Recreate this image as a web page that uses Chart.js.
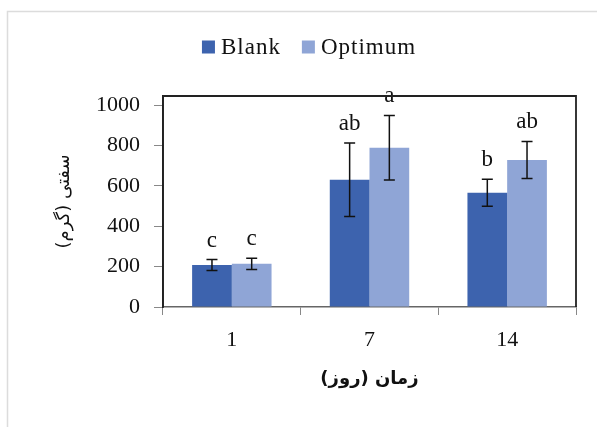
<!DOCTYPE html>
<html>
<head>
<meta charset="utf-8">
<script src="https://cdn.jsdelivr.net/npm/chart.js@4/dist/chart.umd.min.js"></script>
<style>
  html, body { margin: 0; padding: 0; background: #fff; }
  #wrap { width: 597px; height: 427px; position: relative; }
</style>
</head>
<body>
<div id="wrap"><canvas id="c" width="597" height="427"></canvas></div>
<script>
// Days of storage
const days = ['1', '7', '14'];

// Mean hardness (g) per treatment
const blankValues = [208, 630, 566];
const optimumValues = [214, 789, 728];

// Error bar half-widths (g)
const blankErrors = [27, 182, 67];
const optimumErrors = [28, 160, 92];

// Significance letters
const blankLetters = ['c', 'ab', 'b'];
const optimumLetters = ['c', 'a', 'ab'];

// Y axis tick values
const yTicks = [0, 200, 400, 600, 800, 1000];

const seriesNames = ['Blank', 'Optimum'];
const seriesColors = ['#3D63AE', '#8FA5D6'];

const SERIF = '"Liberation Serif", "Times New Roman", serif';
const ARABIC = '"DejaVu Sans", sans-serif';

// Error bars and letters above each bar
const errorBarPlugin = {
  id: 'errorBars',
  afterDatasetsDraw(chart) {
    const ctx = chart.ctx;
    const y = chart.scales.y;
    const errs = [blankErrors, optimumErrors];
    const letters = [blankLetters, optimumLetters];
    ctx.save();
    chart.data.datasets.forEach((ds, di) => {
      const meta = chart.getDatasetMeta(di);
      meta.data.forEach((bar, i) => {
        const v = ds.data[i];
        const e = errs[di][i];
        const yTop = y.getPixelForValue(v + e);
        const yBot = y.getPixelForValue(v - e);
        const x = bar.x;
        ctx.strokeStyle = '#111';
        ctx.lineWidth = 1.5;
        ctx.beginPath();
        ctx.moveTo(x, yTop); ctx.lineTo(x, yBot);
        ctx.moveTo(x - 5.5, yTop); ctx.lineTo(x + 5.5, yTop);
        ctx.moveTo(x - 5.5, yBot); ctx.lineTo(x + 5.5, yBot);
        ctx.stroke();
        ctx.fillStyle = '#111';
        ctx.font = '23px ' + SERIF;
        ctx.textAlign = 'center';
        ctx.textBaseline = 'alphabetic';
        ctx.fillText(letters[di][i], x, yTop - 13);
      });
    });
    ctx.restore();
  }
};

// Plot frame, outer border and legend
const framePlugin = {
  id: 'frame',
  beforeDraw(chart) {
    const ctx = chart.ctx;
    ctx.save();
    ctx.fillStyle = '#fff';
    ctx.fillRect(0, 0, chart.width, chart.height);
    ctx.strokeStyle = '#dcdcdc';
    ctx.lineWidth = 1.5;
    ctx.beginPath();
    ctx.moveTo(7.5, chart.height); ctx.lineTo(7.5, 11.5); ctx.lineTo(chart.width, 11.5);
    ctx.stroke();
    ctx.restore();
  },
  afterDraw(chart) {
    const ctx = chart.ctx;
    const a = chart.chartArea;
    ctx.save();
    ctx.strokeStyle = '#222';
    ctx.lineWidth = 1.8;
    ctx.beginPath();
    ctx.moveTo(a.left, a.bottom); ctx.lineTo(a.left, a.top);
    ctx.lineTo(a.right, a.top); ctx.lineTo(a.right, a.bottom);
    ctx.stroke();

    // legend
    ctx.font = '23px ' + SERIF;
    ctx.letterSpacing = '1px';
    ctx.textBaseline = 'middle';
    ctx.textAlign = 'left';
    const box = 13, gapBox = 6, gapItem = 21;
    const items = chart.data.datasets.map(d => ({ label: d.label, color: d.backgroundColor, w: ctx.measureText(d.label).width }));
    let total = 0;
    items.forEach((it, i) => { total += box + gapBox + it.w + (i ? gapItem : 0); });
    let x = 309 - total / 2;
    const cy = 47;
    items.forEach((it, i) => {
      if (i) x += gapItem;
      ctx.fillStyle = it.color;
      ctx.fillRect(x, cy - box / 2, box, box);
      x += box + gapBox;
      ctx.fillStyle = '#111';
      ctx.fillText(it.label, x, cy + 1);
      x += it.w;
    });
    ctx.restore();
  }
};

new Chart(document.getElementById('c'), {
  type: 'bar',
  data: {
    labels: days,
    datasets: [
      { label: seriesNames[0], data: blankValues, backgroundColor: seriesColors[0] },
      { label: seriesNames[1], data: optimumValues, backgroundColor: seriesColors[1] }
    ]
  },
  options: {
    responsive: false,
    animation: false,
    devicePixelRatio: 1,
    layout: { padding: { top: 96, left: 41, right: 21, bottom: 0 } },
    datasets: { bar: { categoryPercentage: 0.577, barPercentage: 1, borderWidth: 0 } },
    plugins: {
      legend: { display: false },
      tooltip: { enabled: false }
    },
    scales: {
      x: {
        grid: { offset: true, drawOnChartArea: false, drawTicks: true, tickLength: 8, color: '#888', lineWidth: 1 },
        border: { display: true, color: '#666', width: 1.5 },
        ticks: { color: '#111', font: { family: SERIF, size: 22 }, padding: 12 },
        title: { display: true, text: 'زمان (روز)', color: '#111', font: { family: ARABIC, size: 18, weight: 'bold' }, padding: { top: 0, bottom: 37 } },
        afterFit(scale) { scale.height = 120; }
      },
      y: {
        min: 0,
        max: 1045,
        afterBuildTicks(scale) { scale.ticks = yTicks.map(v => ({ value: v })); },
        grid: { drawOnChartArea: false, drawTicks: true, tickLength: 9, color: '#888', lineWidth: 1 },
        border: { display: true, color: '#222', width: 1.8 },
        ticks: { color: '#111', font: { family: SERIF, size: 22 }, padding: 14, callback: (v) => String(v) },
        title: { display: true, text: 'سفتی (گرم)', color: '#111', font: { family: ARABIC, size: 18 }, padding: { top: 13, bottom: 0 } },
        afterFit(scale) { scale.width = 122; }
      }
    }
  },
  plugins: [framePlugin, errorBarPlugin]
});
</script>
</body>
</html>
